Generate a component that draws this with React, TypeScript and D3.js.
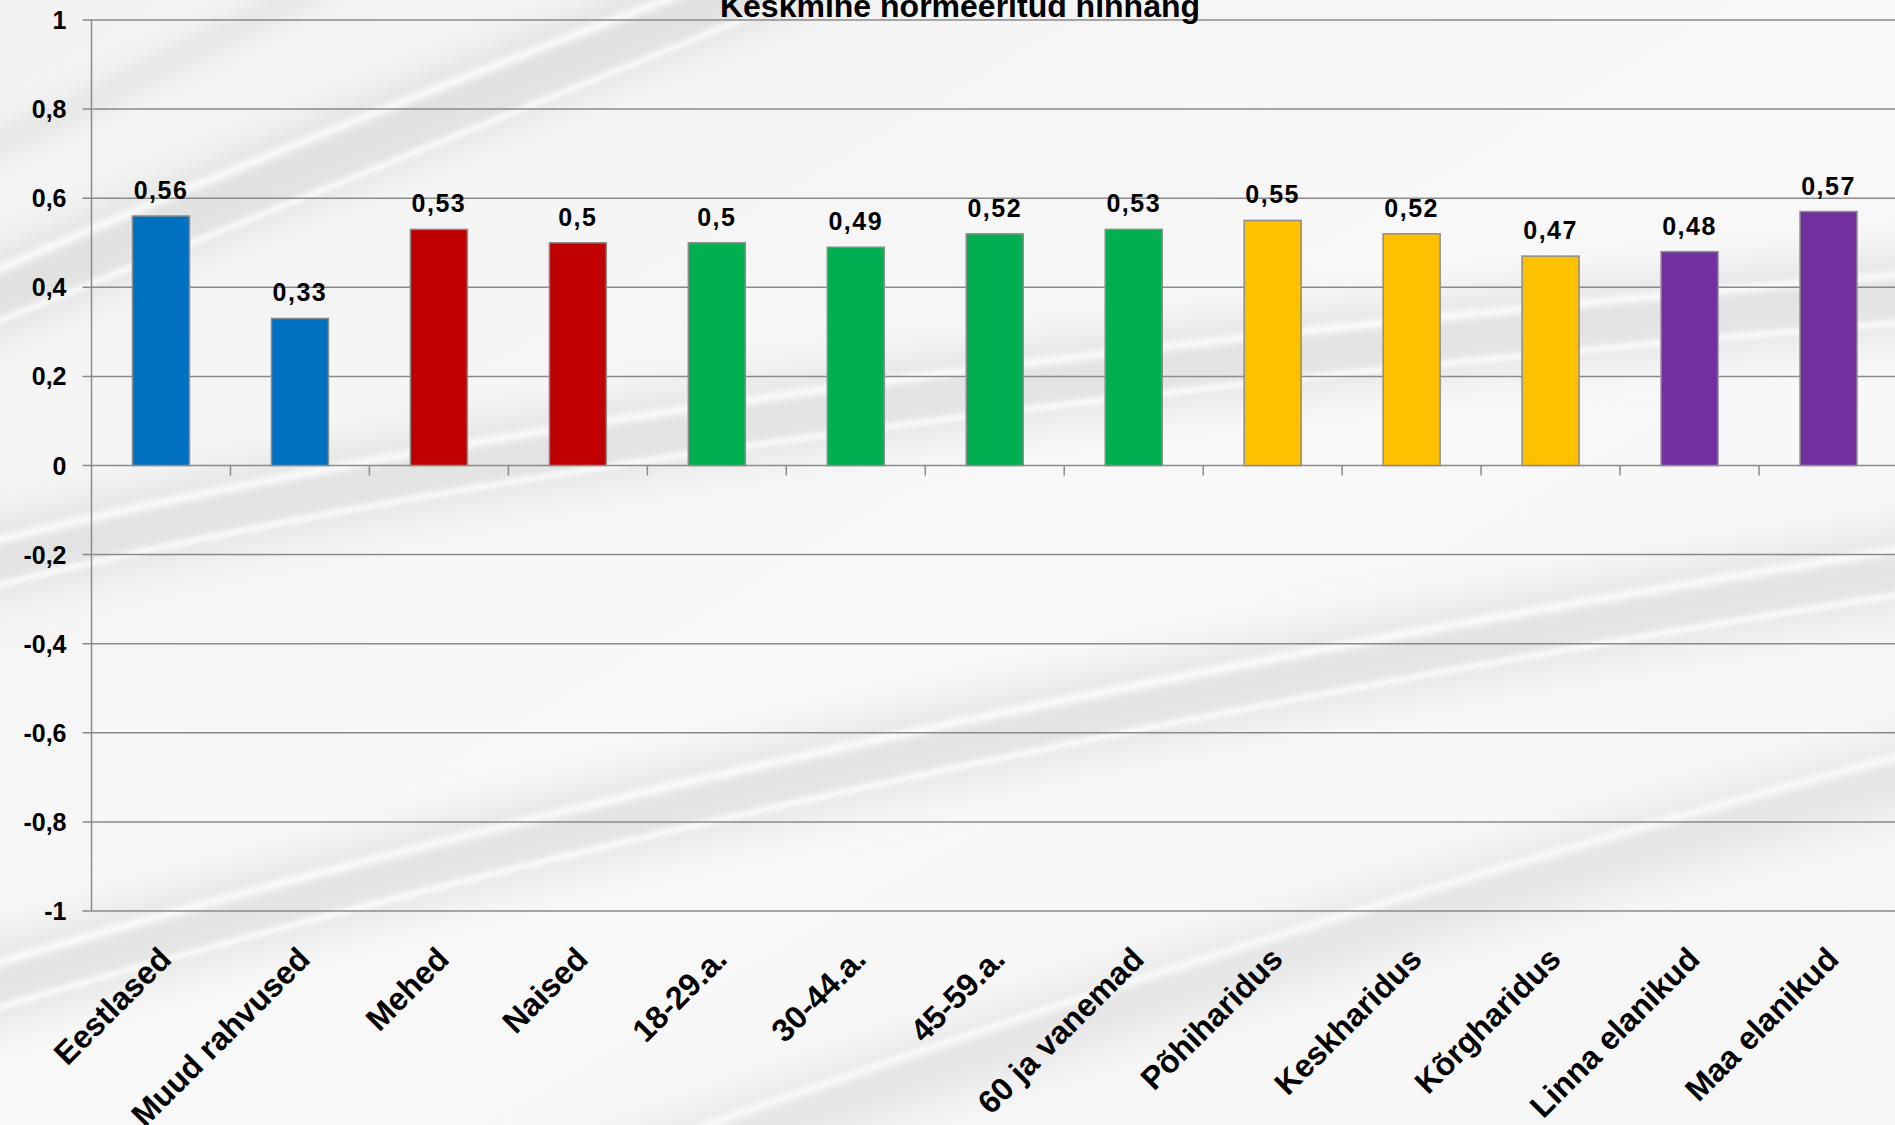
import * as d3 from "d3";
import { useEffect } from "react";

const categories = [
  "Eestlased",
  "Muud rahvused",
  "Mehed",
  "Naised",
  "18-29.a.",
  "30-44.a.",
  "45-59.a.",
  "60 ja vanemad",
  "Põhiharidus",
  "Keskharidus",
  "Kõrgharidus",
  "Linna elanikud",
  "Maa elanikud",
];
const values = [0.56, 0.33, 0.53, 0.5, 0.5, 0.49, 0.52, 0.53, 0.55, 0.52, 0.47, 0.48, 0.57];
const barColors = [
  "#0070C0", "#0070C0",
  "#C00000", "#C00000",
  "#00B050", "#00B050", "#00B050", "#00B050",
  "#FFC000", "#FFC000", "#FFC000",
  "#7030A0", "#7030A0",
];
const yTicks = [1, 0.8, 0.6, 0.4, 0.2, 0, -0.2, -0.4, -0.6, -0.8, -1];
const title = "Keskmine normeeritud hinnang";

const W = 1895;
const H = 1125;
const plot = { left: 91.5, right: 1898, top: 20, bottom: 911 };

// background streaks (decoration): path, width, colour, blur
const streaks: [string, number, string, number][] = [
  ["M-60,320 Q300,160 820,-40", 80, "#e2e2e2", 16],
  ["M-60,295 Q300,135 800,-50", 7, "#ffffff", 3],
  ["M-60,345 Q320,190 840,-20", 5, "#ffffff", 2.5],
  ["M-60,170 Q120,90 330,-20", 30, "#e6e6e6", 10],
  ["M-60,575 Q600,400 1960,290", 80, "#e3e3e3", 18],
  ["M-60,555 Q600,380 1960,270", 7, "#ffffff", 3],
  ["M-60,600 Q600,425 1960,318", 5, "#ffffff", 2.5],
  ["M-60,1000 Q800,740 1960,560", 80, "#e4e4e4", 18],
  ["M-60,980 Q800,720 1960,540", 7, "#ffffff", 3],
  ["M-60,1025 Q800,765 1960,585", 5, "#ffffff", 2.5],
  ["M500,1220 Q1200,960 1960,760", 70, "#e6e6e6", 18],
  ["M500,1200 Q1200,940 1960,740", 6, "#ffffff", 3],
];

const fmt = (v: number) => String(v).replace(".", ",");

export default function App() {
  useEffect(() => {
    document.body.style.margin = "0";
  }, []);

  const x = d3
    .scaleBand<string>()
    .domain(categories)
    .range([plot.left, plot.right])
    .paddingInner(0.59)
    .paddingOuter(0.295);
  const y = d3.scaleLinear().domain([-1, 1]).range([plot.bottom, plot.top]);
  const step = x.step();
  const font = "Arial, 'Liberation Sans', sans-serif";

  return (
    <svg width={W} height={H} style={{ display: "block" }}>
      <defs>
        <linearGradient id="bg" x1="0" y1="0" x2="1" y2="1">
          <stop offset="0%" stopColor="#f2f2f2" />
          <stop offset="50%" stopColor="#f8f8f8" />
          <stop offset="100%" stopColor="#f6f6f6" />
        </linearGradient>
        {[2.5, 3, 10, 16, 18].map((b) => (
          <filter key={b} id={`blur${String(b).replace(".", "_")}`} x="-20%" y="-50%" width="140%" height="200%">
            <feGaussianBlur stdDeviation={b} />
          </filter>
        ))}
      </defs>
      <rect width={W} height={H} fill="url(#bg)" />
      {streaks.map(([d, w, c, b], i) => (
        <path
          key={i}
          d={d}
          fill="none"
          stroke={c}
          strokeWidth={w}
          filter={`url(#blur${String(b).replace(".", "_")})`}
        />
      ))}

      {/* gridlines + y ticks */}
      {yTicks.map((t) => (
        <g key={t}>
          <line x1={plot.left - 9} x2={plot.right} y1={y(t)} y2={y(t)} stroke="#8a8a8a" strokeWidth={1.5} />
          <text
            x={plot.left - 25}
            y={y(t)}
            dy="0.36em"
            textAnchor="end"
            fontFamily={font}
            fontWeight="bold"
            fontSize={25}
            fill="#000"
          >
            {fmt(t)}
          </text>
        </g>
      ))}
      <line x1={plot.left} x2={plot.left} y1={plot.top} y2={plot.bottom} stroke="#8a8a8a" strokeWidth={1.5} />

      {/* category ticks on zero line */}
      {d3.range(1, categories.length + 1).map((i) => (
        <line
          key={i}
          x1={plot.left + i * step}
          x2={plot.left + i * step}
          y1={y(0)}
          y2={y(0) + 10}
          stroke="#8a8a8a"
          strokeWidth={1.5}
        />
      ))}

      {/* bars */}
      {categories.map((c, i) => (
        <rect
          key={c}
          x={x(c)}
          y={y(values[i])}
          width={x.bandwidth()}
          height={y(0) - y(values[i])}
          fill={barColors[i]}
          stroke="#8c8c8c"
          strokeWidth={1.5}
        />
      ))}

      {/* data labels */}
      {categories.map((c, i) => (
        <text
          key={c}
          x={(x(c) ?? 0) + x.bandwidth() / 2}
          y={y(values[i]) - 17}
          textAnchor="middle"
          fontFamily={font}
          fontWeight="bold"
          fontSize={25}
          letterSpacing={1.5}
          fill="#000"
        >
          {fmt(values[i])}
        </text>
      ))}

      {/* category labels */}
      {categories.map((c) => {
        const cx = (x(c) ?? 0) + x.bandwidth() / 2 + 12;
        const cy = plot.bottom + 50;
        return (
          <text
            key={c}
            x={cx}
            y={cy}
            transform={`rotate(-45, ${cx}, ${cy})`}
            textAnchor="end"
            fontFamily={font}
            fontWeight="bold"
            fontSize={32}
            fill="#000"
          >
            {c}
          </text>
        );
      })}

      <text
        x={960}
        y={17}
        textAnchor="middle"
        fontFamily={font}
        fontWeight="bold"
        fontSize={32}
        fill="#000"
      >
        {title}
      </text>
    </svg>
  );
}
